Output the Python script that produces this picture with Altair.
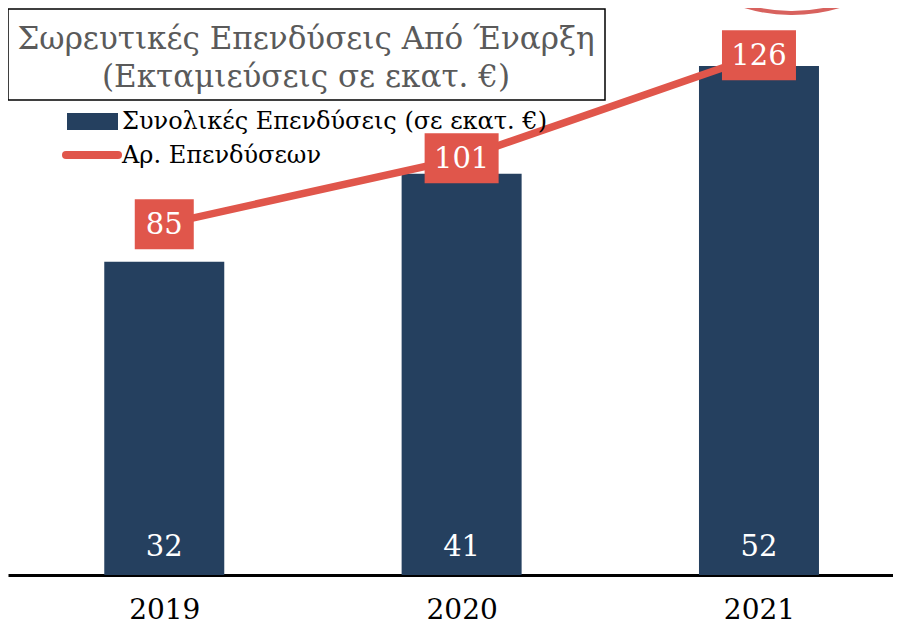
import altair as alt
import pandas as pd

# ---- data ----
years = [2019, 2020, 2021]
investments = [32, 41, 52]          # Συνολικές Επενδύσεις (σε εκατ. €)
counts = [85, 101, 126]             # Αρ. Επενδύσεων

title_lines = ["Σωρευτικές Επενδύσεις Από Έναρξη", "(Εκταμιεύσεις σε εκατ. €)"]
legend_labels = ["Συνολικές Επενδύσεις (σε εκατ. €)", "Αρ. Επενδύσεων"]

NAVY = "#25405F"
RED = "#E0564B"
FONT = "DejaVu Serif"

df = pd.DataFrame({"year": years, "inv": investments, "cnt": counts})
one = pd.DataFrame({"k": [0]})

W, H = 885, 567
xscale = alt.Scale(domain=[2018.4913, 2021.4339], nice=False, zero=False)
ybar = alt.Scale(domain=[0, 57.92], nice=False, zero=True)
yline = alt.Scale(domain=[0, 137.45], nice=False, zero=True)

xaxis = alt.Axis(values=years, format="d", title=None, ticks=False, grid=False,
                 domainColor="black", domainWidth=3, labelFont=FONT, labelFontSize=28,
                 labelColor="black", labelBaseline="middle", labelPadding=35,
                 labelFlush=False)
x_enc = alt.X("year:Q", scale=xscale, axis=xaxis)

base = alt.Chart(df)

bars = base.mark_bar(color=NAVY, size=120).encode(
    x=x_enc, y=alt.Y("inv:Q", scale=ybar, axis=None))

bar_text = base.transform_calculate(zero="0").mark_text(
    color="white", font=FONT, fontSize=29, baseline="middle", dy=-28
).encode(x=x_enc, y=alt.Y("zero:Q", scale=ybar, axis=None), text=alt.Text("inv:Q"))

line = base.mark_line(color=RED, strokeWidth=7.5).encode(
    x=x_enc, y=alt.Y("cnt:Q", scale=yline, axis=None))

box_narrow = base.transform_filter("datum.cnt < 100").mark_point(
    shape="M-1.18,-1L1.18,-1L1.18,1L-1.18,1Z", size=2500, filled=True, opacity=1,
    color=RED, strokeWidth=0
).encode(x=x_enc, y=alt.Y("cnt:Q", scale=yline, axis=None))

box_wide = base.transform_filter("datum.cnt >= 100").mark_point(
    shape="M-1.48,-1L1.48,-1L1.48,1L-1.48,1Z", size=2500, filled=True, opacity=1,
    color=RED, strokeWidth=0
).encode(x=x_enc, y=alt.Y("cnt:Q", scale=yline, axis=None))

line_text = base.mark_text(
    color="white", font=FONT, fontSize=29, baseline="middle", dy=1
).encode(x=x_enc, y=alt.Y("cnt:Q", scale=yline, axis=None), text=alt.Text("cnt:Q"))

# title box
tbox = alt.Chart(one).mark_rect(fill="white", stroke="black", strokeWidth=1.5).encode(
    x=alt.value(0), x2=alt.value(597), y=alt.value(1), y2=alt.value(92))
t1 = alt.Chart(one).mark_text(font=FONT, fontSize=31, color="#5A5A5A", baseline="middle",
                              align="center", text=title_lines[0]).encode(
    x=alt.value(298), y=alt.value(32))
t2 = alt.Chart(one).mark_text(font=FONT, fontSize=31, color="#5A5A5A", baseline="middle",
                              align="center", text=title_lines[1]).encode(
    x=alt.value(298), y=alt.value(70))

# legend
lg_rect = alt.Chart(one).mark_rect(color=NAVY).encode(
    x=alt.value(59), x2=alt.value(110), y=alt.value(105), y2=alt.value(122))
lg_line = alt.Chart(one).mark_rule(color=RED, strokeWidth=8, strokeCap="round").encode(
    x=alt.value(58), x2=alt.value(110), y=alt.value(147))
lg_t1 = alt.Chart(one).mark_text(font=FONT, fontSize=24, color="black", baseline="middle",
                                 align="left", text=legend_labels[0]).encode(
    x=alt.value(114), y=alt.value(114))
lg_t2 = alt.Chart(one).mark_text(font=FONT, fontSize=24, color="black", baseline="middle",
                                 align="left", text=legend_labels[1]).encode(
    x=alt.value(114), y=alt.value(148))

# decorative red ring, top right
ring = alt.Chart(one).mark_arc(radius=166, radius2=162, theta=2.75, theta2=3.55,
                               color="#D8625E").encode(x=alt.value(784), y=alt.value(-159))

chart = alt.layer(
    bars, bar_text, line, box_narrow, box_wide, line_text,
    tbox, t1, t2, lg_rect, lg_line, lg_t1, lg_t2, ring
).resolve_scale(y="independent").properties(
    width=W, height=H,
    autosize=alt.AutoSizeParams(type="none"),
    padding={"left": 0, "right": 0, "top": 0, "bottom": 49},
).configure_view(stroke=None)

chart.save("out.html", embed_options={"renderer": "svg", "actions": False})
